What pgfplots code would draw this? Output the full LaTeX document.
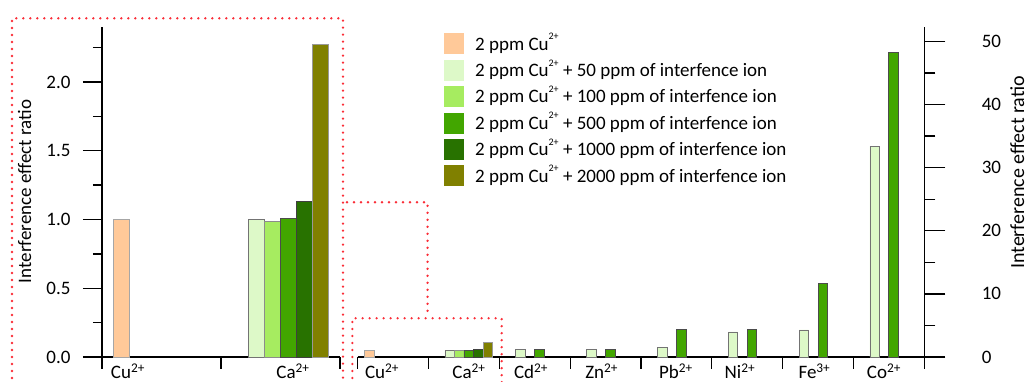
\documentclass[border=0pt]{standalone}
\usepackage{pgfplots}
\pgfplotsset{compat=1.18}
\usepackage{fontspec}
\setmainfont{Carlito}

\definecolor{cA}{RGB}{255,201,153}
\definecolor{cB}{RGB}{221,249,200}
\definecolor{cC}{RGB}{166,236,96}
\definecolor{cD}{RGB}{66,166,0}
\definecolor{cE}{RGB}{40,114,0}
\definecolor{cF}{RGB}{128,128,0}
\definecolor{dotred}{RGB}{250,45,55}

\newcommand{\fs}{\fontsize{19}{22}\selectfont}
\newcommand{\lsup}[1]{\raisebox{0.55em}{\fontsize{10}{10}\selectfont #1}}

\pgfplotsset{
  common/.style={
    anchor=south west, scale only axis, height=330pt, ymin=0,
    axis x line*=bottom,
    axis line style={line width=1.3pt,-},
    tick style={line width=1.3pt,black},
    tick align=outside,
    xticklabels={},
    ybar, bar width=0.134, clip=false, enlarge x limits=false,
    /pgf/number format/assume math mode=true,
    tick label style={font=\fs},
    legend image code/.code={\fill[##1,draw=none] (0pt,-10.5pt) rectangle (20pt,10.5pt);},
  },
  s0/.style={fill=cA, draw=black!35, line width=0.8pt, bar shift=-0.335},
  s1/.style={fill=cB, draw=black!55, line width=0.8pt, bar shift=-0.201},
  s2/.style={fill=cC, draw=black!45, line width=0.8pt, bar shift=-0.067},
  s3/.style={fill=cD, draw=black!70, line width=0.8pt, bar shift=0.067},
  s4/.style={fill=cE, draw=black!75, line width=0.8pt, bar shift=0.201},
  s5/.style={fill=cF, draw=black!40, line width=0.8pt, bar shift=0.335},
}

\begin{document}
\begin{tikzpicture}[font=\fs]
% ---------- left (zoomed) axis ----------
\begin{axis}[common,
  at={(102pt,25pt)}, width=238pt,
  xmin=-0.5, xmax=1.5, ymax=2.4,
  axis y line*=left,
  xtick={-0.5,0.5,1.5},
  xtick style={/pgfplots/major tick length=12pt},
  ytick={0,0.5,1.0,1.5,2.0},
  minor ytick={0.25,0.75,1.25,1.75,2.25},
  major tick length=19pt, minor tick length=9pt,
  yticklabel style={font=\fs, xshift=-9pt, /pgf/number format/fixed, /pgf/number format/fixed zerofill,
    /pgf/number format/precision=1},
]
\addplot[s0] coordinates {(0,1.00)};
\addplot[s1] coordinates {(1,1.00)};
\addplot[s2] coordinates {(1,0.988)};
\addplot[s3] coordinates {(1,1.005)};
\addplot[s4] coordinates {(1,1.131)};
\addplot[s5] coordinates {(1,2.276)};
\node[anchor=base, yshift=-22pt] at (axis cs:-0.282,0) {Cu\textsuperscript{2+}};
\node[anchor=base, yshift=-22pt] at (axis cs:1.105,0) {Ca\textsuperscript{2+}};
\end{axis}

% ---------- right (full) axis ----------
\begin{axis}[common,
  at={(357.7pt,25pt)}, width=566.6pt,
  xmin=-0.5, xmax=7.5, ymax=52.27,
  axis y line*=right,
  xtick={-0.5,0.5,1.5,2.5,3.5,4.5,5.5,6.5,7.5},
  xtick style={/pgfplots/major tick length=12pt},
  ytick={0,10,20,30,40,50},
  minor ytick={5,15,25,35,45},
  major tick length=21pt, minor tick length=11pt,
  yticklabel style={font=\fs, xshift=33pt},
  legend style={at={(rel axis cs:0.147,0.987)}, anchor=north west,
    draw=none, fill=none, font=\fs, row sep=5.4pt,
    nodes={text height=15.5pt, text depth=3.3pt, inner ysep=0pt, inner xsep=11pt}},
  legend cell align=left,
]
\addplot[s0] coordinates {(0,1.00)};
\addplot[s1] coordinates {(1,1.00) (2,1.18) (3,1.18) (4,1.48) (5,3.96) (6,4.28) (7,33.4)};
\addplot[s2] coordinates {(1,0.99)};
\addplot[s3] coordinates {(1,1.00) (2,1.18) (3,1.18) (4,4.33) (5,4.33) (6,11.6) (7,48.2)};
\addplot[s4] coordinates {(1,1.13)};
\addplot[s5] coordinates {(1,2.28)};
\addlegendentry{2 ppm Cu\lsup{2+}}
\addlegendentry{2 ppm Cu\lsup{2+} + 50 ppm of interfence ion}
\addlegendentry{2 ppm Cu\lsup{2+} + 100 ppm of interfence ion}
\addlegendentry{2 ppm Cu\lsup{2+} + 500 ppm of interfence ion}
\addlegendentry{2 ppm Cu\lsup{2+} + 1000 ppm of interfence ion}
\addlegendentry{2 ppm Cu\lsup{2+} + 2000 ppm of interfence ion}
\node[anchor=base, yshift=-22pt] at (axis cs:-0.157,0) {Cu\textsuperscript{2+}};
\node[anchor=base, yshift=-22pt] at (axis cs:1.071,0) {Ca\textsuperscript{2+}};
\node[anchor=base, yshift=-22pt] at (axis cs:1.947,0) {Cd\textsuperscript{2+}};
\node[anchor=base, yshift=-22pt] at (axis cs:2.945,0) {Zn\textsuperscript{2+}};
\node[anchor=base, yshift=-22pt] at (axis cs:3.994,0) {Pb\textsuperscript{2+}};
\node[anchor=base, yshift=-22pt] at (axis cs:4.897,0) {Ni\textsuperscript{2+}};
\node[anchor=base, yshift=-22pt] at (axis cs:5.949,0) {Fe\textsuperscript{3+}};
\node[anchor=base, yshift=-22pt] at (axis cs:6.930,0) {Co\textsuperscript{2+}};
\end{axis}

% axis titles
\node[rotate=90, anchor=base] at (31pt,190.5pt) {Interference effect ratio};
\node[rotate=90, anchor=base, font=\fontsize{20}{23}\selectfont] at (1024pt,209.5pt) {Interference effect ratio};

% red dotted zoom outlines
\begin{scope}[dotred, line width=2.6pt, line cap=round, dash pattern=on 0pt off 7pt]
\draw (12pt,-10pt) -- (12pt,363.7pt) -- (343pt,363.7pt) -- (343pt,-10pt);
\draw (347pt,179.7pt) -- (427.5pt,179.7pt) -- (427.5pt,67pt);
\draw (352.3pt,-10pt) -- (352.3pt,63.7pt) -- (501.7pt,63.7pt) -- (501.7pt,-10pt);
\end{scope}

\pgfresetboundingbox
\useasboundingbox (0pt,0pt) rectangle (1028pt,382pt);
\end{tikzpicture}
\end{document}
